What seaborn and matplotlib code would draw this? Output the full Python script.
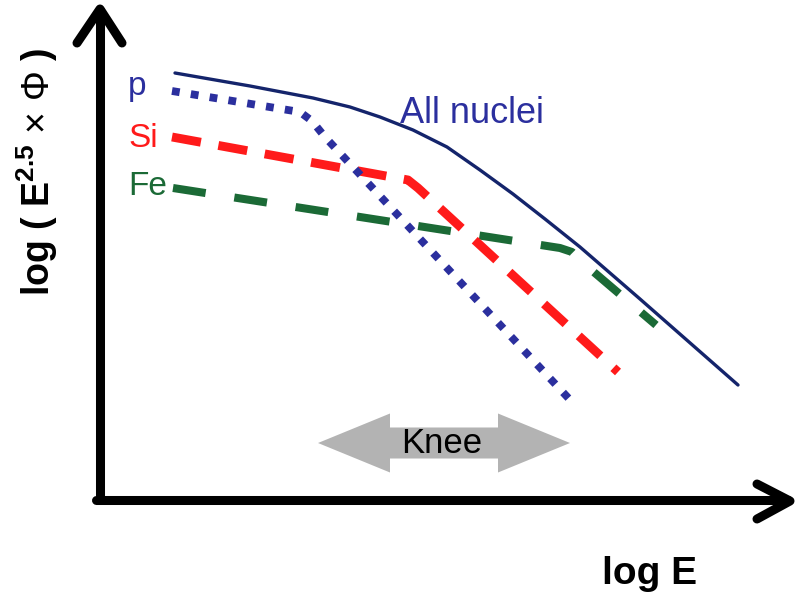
import numpy as np
import pandas as pd
import seaborn as sns
import matplotlib
matplotlib.use("Agg")
from matplotlib import pyplot as plt
from matplotlib import patches as mpatches

# schematic spectrum, units (x grows right, y grows down)
all_x = [175, 250, 313, 350, 380, 413, 447, 480, 513, 545, 580, 640, 738]
all_y = [73, 86, 98, 107, 117, 130, 147, 170, 194, 219, 247, 299, 385]

p_x = [172, 300, 312, 325, 572]
p_y = [91, 112, 121, 137, 402]

si_x = [172, 408, 418, 618]
si_y = [137, 180, 188, 372]

fe_x = [173, 560, 572, 582, 656]
fe_y = [188, 248, 252, 262, 325]

series_labels = ["p", "Si", "Fe"]
curve_label = "All nuclei"
knee_label = "Knee"
xlabel = "log E"
ylabel = r"log ( E$^{\mathbf{2.5}}$ $\times$ $\Phi$ )"

sns.set_style("white")
plt.rcParams["font.family"] = ["Liberation Sans", "DejaVu Sans"]
plt.rcParams["mathtext.fontset"] = "custom"
plt.rcParams["mathtext.rm"] = "Liberation Sans"
plt.rcParams["mathtext.bf"] = "Liberation Sans:bold"

NAVY = "#14246b"
BLUE = "#2b2f9e"
RED = "#ff1a1a"
GREEN = "#1b6a36"

fig = plt.figure(figsize=(8.02, 5.92), dpi=100)
ax = fig.add_axes([0, 0, 1, 1])
ax.set_xlim(0, 802)
ax.set_ylim(592, 0)
ax.axis("off")

# species curves
sns.lineplot(x=fe_x, y=fe_y, sort=False, ax=ax, color=GREEN, linewidth=5.8,
             linestyle=(0, (4.1, 3.6)), dash_capstyle="butt", zorder=3)
sns.lineplot(x=si_x, y=si_y, sort=False, ax=ax, color=RED, linewidth=6.4,
             linestyle=(0, (3.3, 2.0)), dash_capstyle="butt", zorder=4)
sns.lineplot(x=p_x, y=p_y, sort=False, ax=ax, color=BLUE, linewidth=5.6,
             linestyle=(0, (1.0, 1.45)), dash_capstyle="butt", zorder=5)
sns.lineplot(x=all_x, y=all_y, sort=False, ax=ax, color=NAVY, linewidth=2.4,
             solid_joinstyle="round", zorder=6)

# axes drawn as thick arrows
ax_kw = dict(color="black", linewidth=6.5, solid_capstyle="round",
             solid_joinstyle="round", zorder=2)
ax.plot([100, 100], [500, 10], **ax_kw)
ax.plot([77, 100, 122], [43, 9, 43], **ax_kw)
ax.plot([96, 788], [500, 500], **ax_kw)
ax.plot([757, 790, 757], [484, 501, 519], **ax_kw)

# knee double arrow
for d in (126, -126):
    ax.add_patch(mpatches.FancyArrow(444, 443, d, 0, width=31, head_width=59,
                                     head_length=72, length_includes_head=True,
                                     color="#b3b3b3", linewidth=0, zorder=1))
ax.text(442, 453, knee_label, ha="center", va="baseline", fontsize=25,
        color="black", zorder=7)

# labels
ax.text(137, 95, series_labels[0], ha="center", va="baseline", fontsize=24, color=BLUE)
ax.text(143, 147, series_labels[1], ha="center", va="baseline", fontsize=24, color=RED)
ax.text(148, 195, series_labels[2], ha="center", va="baseline", fontsize=24, color=GREEN)
ax.text(472, 123, curve_label, ha="center", va="baseline", fontsize=26, color=BLUE)

ax.text(650, 584, xlabel, ha="center", va="baseline", fontsize=28,
        fontweight="bold", color="black")
ax.text(37, 172, ylabel, ha="center", va="center", rotation=90, fontsize=27,
        fontweight="bold", color="black")

fig.savefig("out.png", dpi=100)
